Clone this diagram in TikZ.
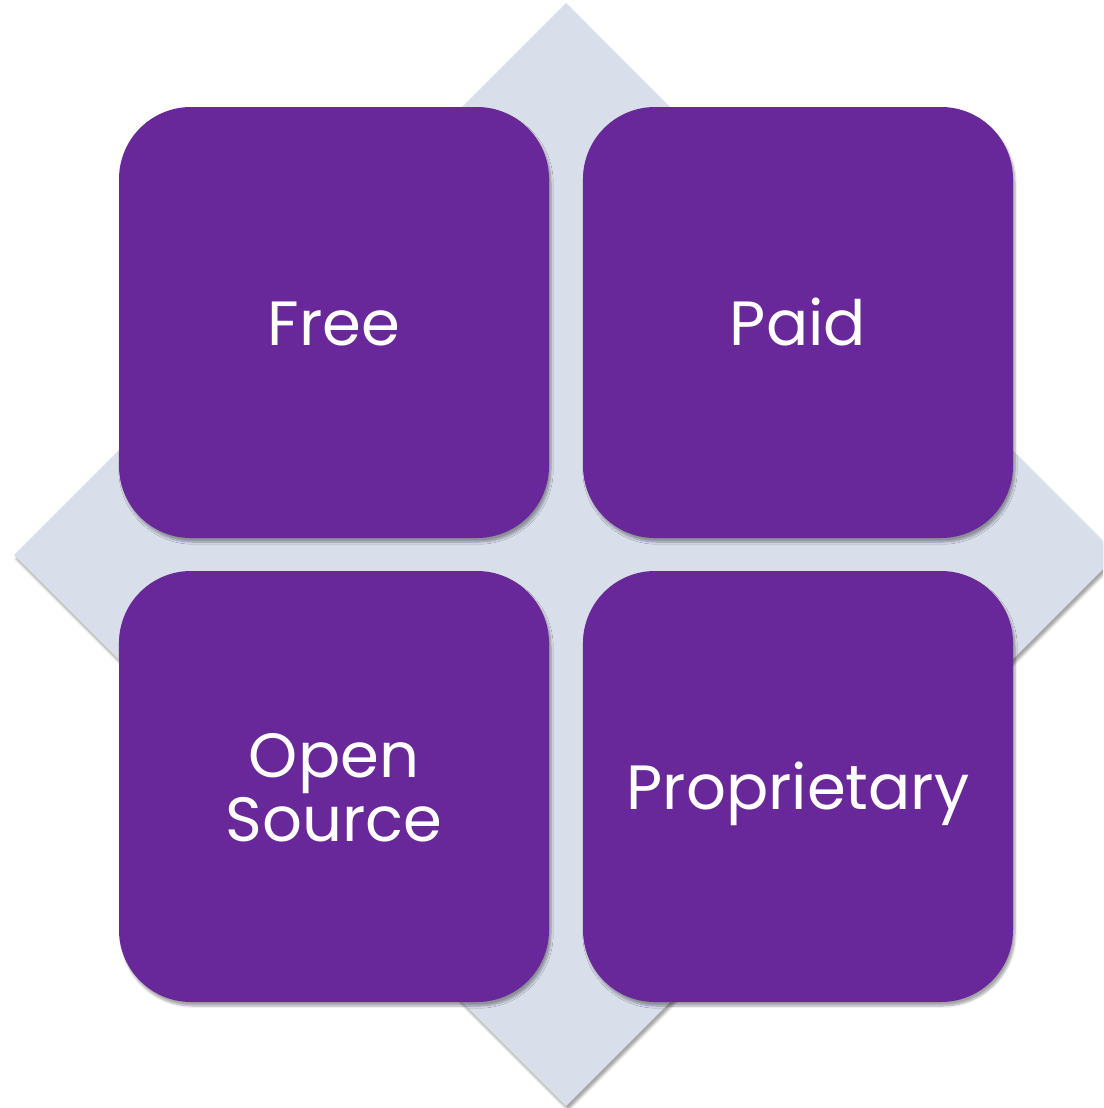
\documentclass[tikz,border=0pt]{standalone}
\usepackage{fontspec}
\setmainfont{Poppins}
\usetikzlibrary{shadows.blur}
\definecolor{boxpurple}{HTML}{692899}
\definecolor{diamondgrey}{HTML}{D9DEEB}
\begin{document}
\begin{tikzpicture}[x=1pt,y=-1pt,
  quad/.style={draw=none, fill=boxpurple, rounded corners=72pt,
    minimum width=430pt, minimum height=431pt, inner sep=0pt,
    text height=46pt, text depth=0pt,
    text=white, font=\fontsize{62.5}{64}\selectfont, align=center,
    blur shadow={shadow xshift=2pt, shadow yshift=-4pt, shadow blur steps=6, shadow opacity=35}},
  twoline/.style={text height=110pt},
  back/.style={fill=diamondgrey, draw=none,
    blur shadow={shadow xshift=2pt, shadow yshift=-4pt, shadow blur steps=6, shadow opacity=35}}]
\useasboundingbox (0,0) rectangle (1103,1108);
\clip (0,0) rectangle (1103,1108);
\fill[back] (566,3) -- (1117,555) -- (566,1106) -- (14,555) -- cycle;
\node[quad] (free) at (334,322.5) {Free};
\node[quad] (paid) at (798,322.5) {Paid};
\node[quad, twoline] (open) at (334,786.5) {Open\\Source};
\node[quad] (prop) at (798,786.5) {Proprietary};
\end{tikzpicture}
\end{document}
